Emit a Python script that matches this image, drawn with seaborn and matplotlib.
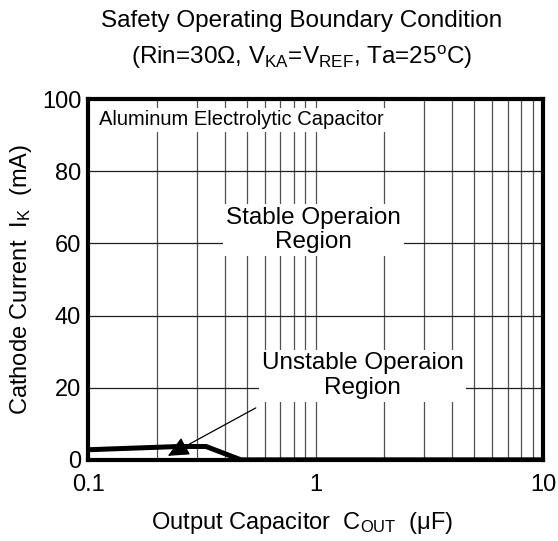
import numpy as np
import pandas as pd
import matplotlib
matplotlib.use("Agg")
import matplotlib.pyplot as plt
import seaborn as sns

# Boundary curve
c_out = [0.1, 0.25, 0.33, 0.47, 10]      # uF
i_k = [2.8, 3.7, 3.7, 0.0, 0.0]          # mA

x_ticks = [0.1, 1, 10]
x_tick_labels = ["0.1", "1", "10"]
y_ticks = [0, 20, 40, 60, 80, 100]

df = pd.DataFrame({"C_out": c_out, "I_k": i_k})

sns.set_style("white")
plt.rcParams["font.family"] = ["Liberation Sans", "DejaVu Sans"]
plt.rcParams["mathtext.fontset"] = "custom"
plt.rcParams["mathtext.rm"] = "Liberation Sans"
plt.rcParams["mathtext.it"] = "Liberation Sans"
plt.rcParams["text.color"] = "black"
plt.rcParams["axes.labelcolor"] = "black"
plt.rcParams["xtick.color"] = "black"
plt.rcParams["ytick.color"] = "black"

fig = plt.figure(figsize=(5.58, 5.41), dpi=100)
ax = fig.add_axes([0.158, 0.150, 0.815, 0.667])

sns.lineplot(data=df, x="C_out", y="I_k", color="black", lw=3.6, ax=ax, zorder=5)

ax.set_xscale("log")
ax.set_xlim(0.1, 10)
ax.set_ylim(0, 100)
ax.set_xticks(x_ticks)
ax.set_xticklabels(x_tick_labels)
ax.set_yticks(y_ticks)
ax.xaxis.set_minor_locator(matplotlib.ticker.LogLocator(base=10, subs=np.arange(2, 10)))
ax.xaxis.set_minor_formatter(matplotlib.ticker.NullFormatter())
ax.tick_params(axis="both", which="both", length=0, labelsize=17, pad=5)
ax.tick_params(axis="x", pad=10)

ax.grid(True, which="major", axis="y", color="#202020", lw=0.9)
ax.grid(True, which="both", axis="x", color="#505050", lw=0.9)
for s in ax.spines.values():
    s.set_linewidth(3.0)
    s.set_color("black")

ax.set_xlabel("Output Capacitor  C$_{\\mathrm{OUT}}$  (\u03bcF)", fontsize=17, labelpad=10)
ax.xaxis.label.set_x(0.47)
ax.set_ylabel("Cathode Current  I$_{\\mathrm{K}}$  (mA)", fontsize=17, labelpad=6)

fig.text(0.54, 0.962, "Safety Operating Boundary Condition", ha="center", va="center", fontsize=17.5)
fig.text(0.54, 0.893, "(Rin=30\u03a9, V$_{\\mathrm{KA}}$=V$_{\\mathrm{REF}}$, Ta=25$^{\\mathrm{o}}$C)",
         ha="center", va="center", fontsize=17.5)

box = dict(facecolor="white", edgecolor="none", pad=2)
ax.text(0.112, 94.2, "Aluminum Electrolytic Capacitor", ha="left", va="center",
        fontsize=14.5, bbox=box, zorder=6)
ax.text(0.98, 63.7, "Stable Operaion\nRegion", ha="center", va="center",
        fontsize=17.5, linespacing=1.15, bbox=box, zorder=6)
ax.text(1.61, 23.3, "Unstable Operaion\nRegion", ha="center", va="center",
        fontsize=17.5, linespacing=1.15, bbox=box, zorder=6)
ax.annotate("", xy=(0.224, 1.1), xytext=(0.546, 14.4),
            arrowprops=dict(arrowstyle="-|>,head_length=1.3,head_width=0.6",
                            color="black", lw=0.9, shrinkA=0, shrinkB=0),
            zorder=7)

fig.savefig("out.png", dpi=100)
